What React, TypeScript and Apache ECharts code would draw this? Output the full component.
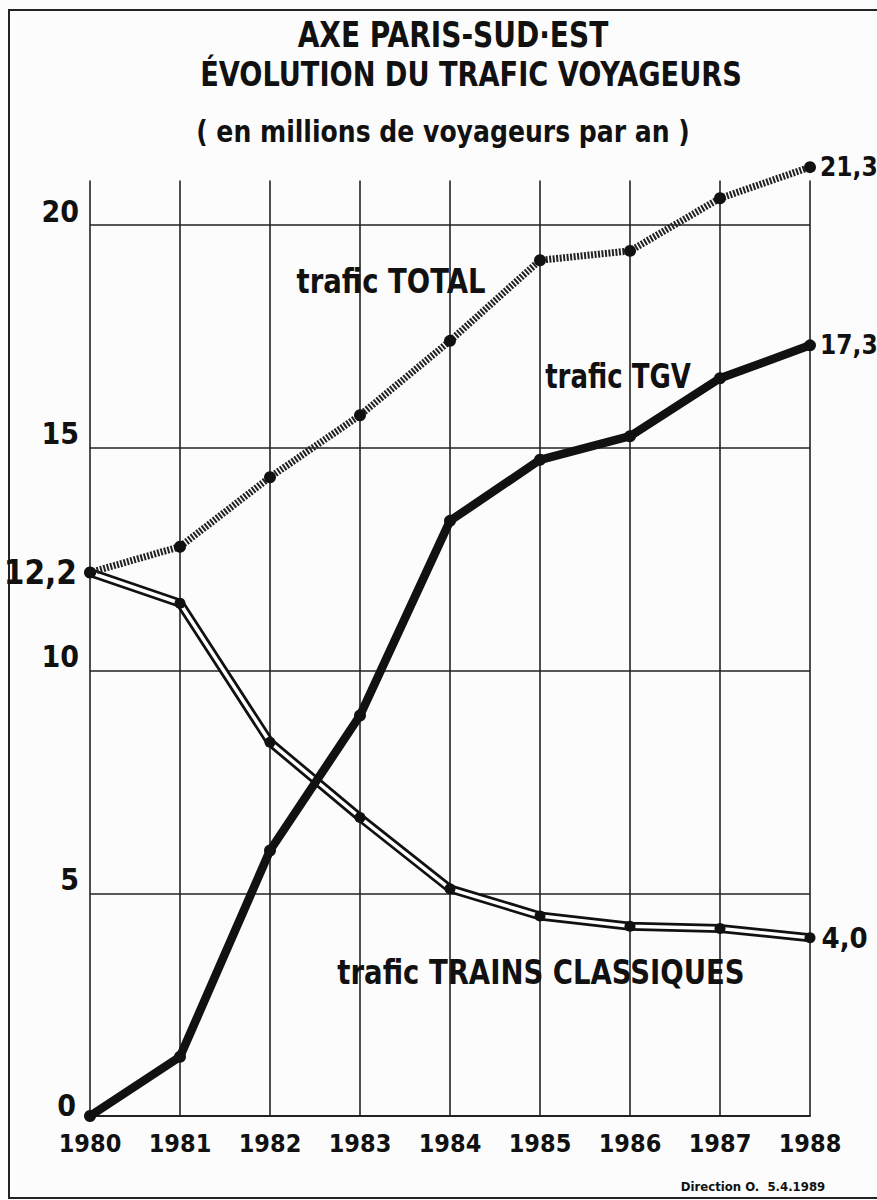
import React, { useEffect, useRef } from 'react';
import * as echarts from 'echarts';

const years = ['1980', '1981', '1982', '1983', '1984', '1985', '1986', '1987', '1988'];
const totalTraffic = [12.2, 12.78, 14.34, 15.73, 17.4, 19.21, 19.42, 20.6, 21.3];
const tgvTraffic = [0, 1.33, 5.96, 8.99, 13.36, 14.73, 15.26, 16.56, 17.3];
const classicTraffic = [12.2, 11.51, 8.39, 6.7, 5.1, 4.49, 4.26, 4.21, 4.0];
const yTicks = [5, 10, 15, 20];

const titleLines = ['AXE PARIS-SUD·EST', 'ÉVOLUTION DU TRAFIC VOYAGEURS', '( en millions de voyageurs par an )'];
const seriesNames = ['trafic TOTAL', 'trafic TGV', 'trafic TRAINS CLASSIQUES'];
const sourceNote = 'Direction O.  5.4.1989';

const FONT = '"Liberation Sans Narrow", "DejaVu Sans Condensed", "Arial Narrow", sans-serif';
const INK = '#111';
const fmt = (v: number) => v.toFixed(1).replace('.', ',');

const labelStyle = { fontFamily: FONT, fontWeight: 'bold' as const, color: INK };

function withEndLabels(values: number[], firstLabel: any, lastLabel: any) {
  return values.map((v, i) => {
    if (i === 0 && firstLabel) return { value: v, label: { show: true, ...labelStyle, ...firstLabel } };
    if (i === values.length - 1 && lastLabel) return { value: v, label: { show: true, ...labelStyle, ...lastLabel } };
    return v;
  });
}

function txt(text: string, x: number, y: number, size: number, sx = 1) {
  return {
    type: 'text',
    x,
    y,
    scaleX: sx,
    z: 20,
    style: {
      text,
      fill: INK,
      fontFamily: FONT,
      fontWeight: 'bold',
      fontSize: size,
      textAlign: 'center',
      textVerticalAlign: 'middle',
    },
  };
}

export default function App() {
  const ref = useRef<HTMLDivElement>(null);
  useEffect(() => {
    if (!ref.current) return;
    const chart = echarts.init(ref.current, null, { renderer: 'svg' });
    const option: any = {
      animation: false,
      backgroundColor: '#fcfcfc',
      grid: { left: 90, right: 67, top: 180.5, bottom: 84, containLabel: false },
      xAxis: {
        type: 'category',
        data: years,
        boundaryGap: false,
        axisTick: { show: false },
        axisLine: { show: true, lineStyle: { color: '#222', width: 2 } },
        axisLabel: { interval: 0, margin: 15, ...labelStyle, fontWeight: 'bold', fontSize: 25 },
        splitLine: { show: true, lineStyle: { color: '#222', width: 1.6 } },
      },
      yAxis: {
        type: 'value',
        min: 0,
        max: 21,
        interval: 5,
        axisLine: { show: false },
        axisTick: { show: false },
        axisLabel: {
          margin: 11,
          verticalAlign: 'bottom',
          showMaxLabel: false,
          formatter: (v: number) => (yTicks.includes(v) ? '{b|' + v + '}' : ''),
          rich: {
            b: { fontFamily: FONT, fontWeight: 'bold', fontSize: 30, color: INK, lineHeight: 28 },
          },
        },
        splitLine: { show: true, showMaxLine: false, lineStyle: { color: '#222', width: 1.6 } },
      },
      graphic: [
        {
          type: 'rect',
          shape: { x: 9, y: 10, width: 900, height: 1188 },
          style: { fill: 'none', stroke: '#222', lineWidth: 2 },
          z: 0,
        },
        txt(titleLines[0], 453, 35, 35, 0.89),
        txt(titleLines[1], 471, 74, 34, 0.89),
        txt(titleLines[2], 443, 131, 31, 0.9),
        txt(seriesNames[0], 391, 281, 34, 0.9),
        txt(seriesNames[1], 618, 376, 34, 0.85),
        txt(seriesNames[2], 541, 972, 34, 0.9),
        txt(sourceNote, 753, 1186, 13),
      ],
      series: [
        {
          name: seriesNames[2] + ' (bord)',
          type: 'line',
          data: classicTraffic,
          symbol: 'none',
          clip: false,
          z: 2,
          lineStyle: { color: INK, width: 9 },
        },
        {
          name: seriesNames[2],
          type: 'line',
          data: withEndLabels(classicTraffic, null, {
            position: 'right',
            distance: 6,
            fontSize: 29,
            formatter: (p: any) => fmt(p.value),
          }),
          symbol: 'circle',
          symbolSize: 11,
          clip: false,
          z: 3,
          itemStyle: { color: INK },
          lineStyle: { color: '#fff', width: 3.5 },
        },
        {
          name: seriesNames[1],
          type: 'line',
          data: withEndLabels(
            tgvTraffic,
            {
              position: 'left',
              distance: 8,
              offset: [0, -11],
              fontSize: 30,
              formatter: (p: any) => fmt(p.value).replace(',0', ''),
            },
            { position: 'right', distance: 4, fontSize: 26, formatter: (p: any) => fmt(p.value) }
          ),
          symbol: 'circle',
          symbolSize: 12,
          clip: false,
          z: 4,
          itemStyle: { color: INK },
          lineStyle: { color: INK, width: 8.5 },
        },
        {
          name: seriesNames[0],
          type: 'line',
          data: withEndLabels(
            totalTraffic,
            { position: 'left', distance: 7, fontSize: 33, formatter: (p: any) => fmt(p.value) },
            { position: 'right', distance: 4, fontSize: 26, formatter: (p: any) => fmt(p.value) }
          ),
          symbol: 'circle',
          symbolSize: 12,
          clip: false,
          z: 5,
          itemStyle: { color: INK },
          lineStyle: { color: '#222', width: 7, type: [2, 1.5] },
        },
      ],
    };
    chart.setOption(option);
    return () => chart.dispose();
  }, []);
  return <div ref={ref} style={{ position: 'fixed', left: 0, top: 0, width: 877, height: 1200 }} />;
}
